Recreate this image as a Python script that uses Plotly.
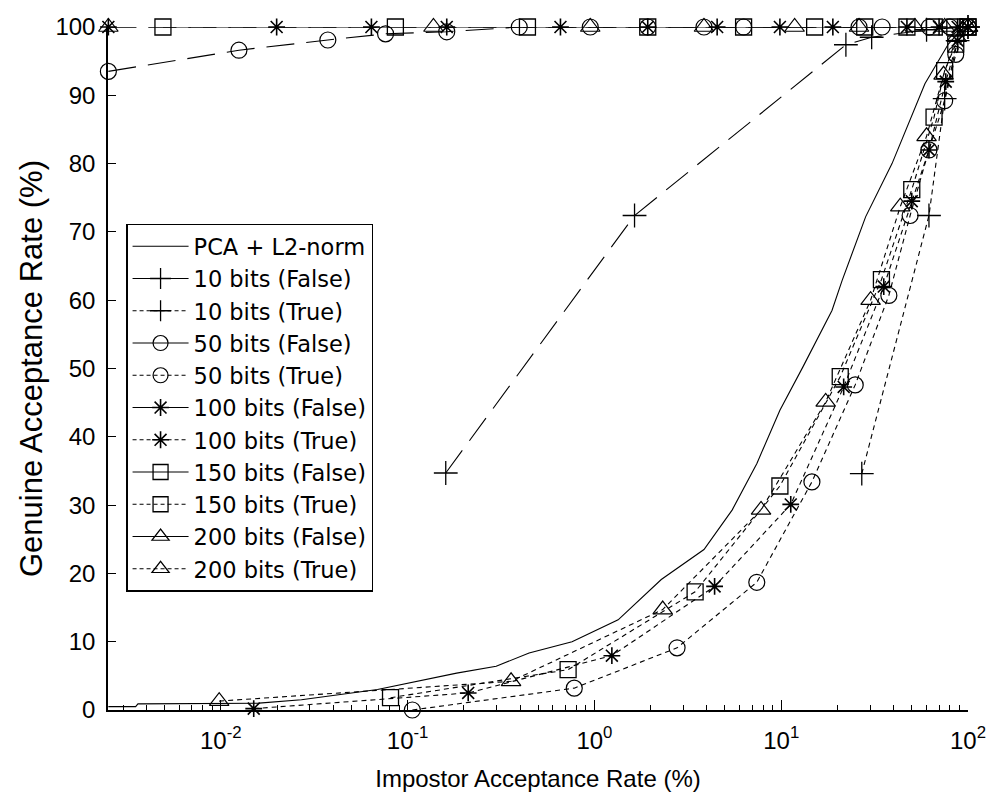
import plotly.graph_objects as go

# ---------------- data ----------------
pca_x = [0.0025, 0.0035, 0.0036, 0.016, 0.027, 0.069, 0.183, 0.298, 0.447, 0.759, 1.34, 2.28,
         3.86, 5.47, 7.41, 9.84, 13.05, 18.7, 21.2, 28.3, 39.2, 47.0, 58.8, 78.5, 92, 100]
pca_y = [0.5, 0.5, 0.9, 1.0, 1.5, 3.0, 5.4, 6.4, 8.35, 10.0, 13.2, 19.1,
         23.5, 29.3, 36.1, 43.9, 50.2, 58.5, 62.9, 72.2, 80.0, 85.3, 91.7, 97.5, 99.6, 100]

b10f_x = [0.16, 1.64, 22.2, 30.5, 60, 100]
b10f_y = [34.7, 72.4, 97.4, 98.5, 99.6, 100]
b10t_x = [27.0, 61.8, 75, 88, 100]
b10t_y = [34.6, 72.4, 89.5, 98, 100]

b50f_x = [0.0025, 0.0125, 0.0374, 0.0762, 0.162, 0.396, 0.95, 1.93, 3.86, 6.29, 26.1, 34.7, 62, 80, 100]
b50f_y = [93.5, 96.6, 98.1, 99.0, 99.3, 100, 100, 100, 100, 100, 100, 100, 100, 100, 100]
b50t_x = [0.106, 0.78, 2.77, 7.4, 14.6, 24.9, 37.7, 49, 61.8, 75, 86, 100]
b50t_y = [0.0, 3.2, 9.1, 18.7, 33.4, 47.6, 60.7, 72.4, 82, 89.2, 96, 100]

b100f_x = [0.0025, 0.0199, 0.064, 0.162, 0.658, 1.93, 4.54, 9.84, 18.9, 47.1, 70, 88, 100]
b100f_y = [100] * 13
b100t_x = [0.015, 0.211, 1.24, 4.4, 11.25, 21.6, 35.4, 50, 61.8, 76, 88, 100]
b100t_y = [0.2, 2.5, 7.95, 18.1, 30.1, 47.3, 62, 74.5, 82, 92, 98, 100]

b150f_x = [0.0049, 0.086, 0.438, 1.93, 6.29, 15.1, 28, 47.1, 66, 85, 100]
b150f_y = [100] * 11
b150t_x = [0.081, 0.723, 3.46, 9.84, 20.7, 34.4, 50, 65.8, 75, 86, 100]
b150t_y = [1.8, 5.9, 17.3, 32.8, 48.8, 63, 76.2, 86.8, 93.6, 97.5, 100]

b200f_x = [0.0025, 0.1375, 0.95, 3.86, 11.8, 26.1, 52, 75, 100]
b200f_y = [100] * 9
b200t_x = [0.0098, 0.358, 2.32, 7.8, 17.3, 30.1, 43.4, 60, 74, 87, 100]
b200t_y = [1.3, 4.2, 14.7, 29.3, 45.1, 60, 73.7, 84, 93, 98.5, 100]

names = ["PCA + L2-norm",
         "10 bits (False)", "10 bits (True)",
         "50 bits (False)", "50 bits (True)",
         "100 bits (False)", "100 bits (True)",
         "150 bits (False)", "150 bits (True)",
         "200 bits (False)", "200 bits (True)"]

x_tickvals = [0.01, 0.1, 1, 10, 100]
x_ticktext = ["10<sup>-2</sup>", "10<sup>-1</sup>", "10<sup>0</sup>", "10<sup>1</sup>", "10<sup>2</sup>"]
y_tickvals = [0, 10, 20, 30, 40, 50, 60, 70, 80, 90, 100]

# ---------------- styling ----------------
FONT = "Liberation Sans, Arial, sans-serif"
LEG_FONT = "DejaVu Sans, Liberation Sans, sans-serif"
DASH_F = "28px,12px"  # how the "False" curves render in the plot
DASH_T = "5px,4px"    # dotted "True" curves
LW = 1.1

sym = {"10": ("cross-thin-open", 17, 1.3), "50": ("circle-open", 16, 1.2),
       "100": ("asterisk-open", 14, 1.6), "150": ("square-open", 16, 1.3),
       "200": ("triangle-up-open", 17, 1.2)}

series = [
    ("10", b10f_x, b10f_y, b10t_x, b10t_y),
    ("50", b50f_x, b50f_y, b50t_x, b50t_y),
    ("100", b100f_x, b100f_y, b100t_x, b100t_y),
    ("150", b150f_x, b150f_y, b150t_x, b150t_y),
    ("200", b200f_x, b200f_y, b200t_x, b200t_y),
]

fig = go.Figure()

# data traces
fig.add_trace(go.Scatter(x=pca_x, y=pca_y, mode="lines", showlegend=False,
                         line=dict(color="black", width=LW), cliponaxis=False))
for key, fx, fy, tx, ty in series:
    s, size, mw = sym[key]
    mk = dict(symbol=s, size=size, color="black", line=dict(color="black", width=mw))
    fig.add_trace(go.Scatter(x=fx, y=fy, mode="lines+markers", showlegend=False,
                             line=dict(color="black", width=LW, dash=DASH_F),
                             marker=mk, cliponaxis=False))
    fig.add_trace(go.Scatter(x=tx, y=ty, mode="lines+markers", showlegend=False,
                             line=dict(color="black", width=LW, dash=DASH_T),
                             marker=mk, cliponaxis=False))

# legend entries (legend samples: False solid, True dotted)
fig.add_trace(go.Scatter(x=[None], y=[None], mode="lines", name=names[0],
                         line=dict(color="black", width=LW)))
i = 1
for key, *_ in series:
    s, size, mw = sym[key]
    mk = dict(symbol=s, size=min(size, 15), color="black", line=dict(color="black", width=mw))
    fig.add_trace(go.Scatter(x=[None], y=[None], mode="lines+markers", name=names[i],
                             line=dict(color="black", width=LW, dash="solid"), marker=mk))
    fig.add_trace(go.Scatter(x=[None], y=[None], mode="lines+markers", name=names[i + 1],
                             line=dict(color="black", width=LW, dash="4px,3px"), marker=mk))
    i += 2

minor_vals = [k * 10 ** e for e in range(-3, 2) for k in range(2, 10)]

fig.update_layout(
    width=998, height=804,
    margin=dict(l=108, r=21, t=27, b=94),
    paper_bgcolor="white", plot_bgcolor="white",
    font=dict(family=FONT, color="black", size=23),
    showlegend=True,
    legend=dict(x=0.021, y=0.1733, xanchor="left", yanchor="bottom",
                bgcolor="white", bordercolor="black", borderwidth=1.5,
                font=dict(family=LEG_FONT, size=22.5, color="black"),
                itemwidth=56, tracegroupgap=0),
    xaxis=dict(type="log", range=[-2.604, 2.0], showgrid=False, zeroline=False,
               showline=True, linecolor="black", linewidth=1.5, mirror=False,
               ticks="inside", ticklen=10, tickwidth=1.2, tickcolor="black",
               tickmode="array", tickvals=x_tickvals, ticktext=x_ticktext,
               ticklabelstandoff=8,
               tickfont=dict(family=FONT, size=24, color="black"),
               minor=dict(ticks="inside", ticklen=5, tickwidth=1.2, tickcolor="black",
                          tickmode="array", tickvals=minor_vals, showgrid=False),
               title=dict(text="Impostor Acceptance Rate (%)", standoff=18,
                          font=dict(family=FONT, size=24, color="black"))),
    yaxis=dict(range=[0, 100], showgrid=False, zeroline=False,
               showline=True, linecolor="black", linewidth=1.5, mirror=False,
               ticks="inside", ticklen=8, tickwidth=1.2, tickcolor="black",
               tickmode="array", tickvals=y_tickvals,
               ticklabelstandoff=6,
               tickfont=dict(family=FONT, size=24, color="black"),
               title=dict(text="Genuine Acceptance Rate (%)", standoff=4,
                          font=dict(family=FONT, size=31, color="black"))),
)

fig.write_html("out.html")
